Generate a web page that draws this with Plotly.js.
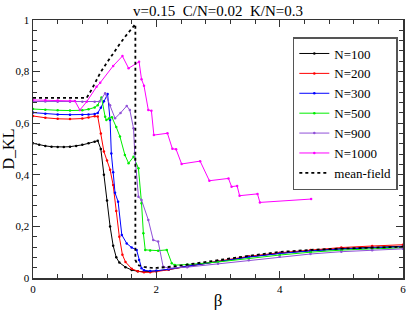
<!DOCTYPE html>
<html>
<head>
<meta charset="utf-8">
<script src="https://cdn.plot.ly/plotly-3.0.1.min.js"></script>
<style>html,body{margin:0;padding:0;background:#fff}#chart{width:407px;height:310px}</style>
</head>
<body>
<div id="chart"></div>
<script>
// ---- data ----
var seriesNames = ['N=100', 'N=200', 'N=300', 'N=500', 'N=900', 'N=1000', 'mean-field'];

var beta100 = [0, 0.1, 0.2, 0.3, 0.4, 0.5, 0.6, 0.7, 0.8, 0.9, 1.0, 1.05, 1.1, 1.15, 1.2, 1.25, 1.3, 1.35, 1.4, 1.5, 1.6, 1.7, 1.8, 2.0, 2.2, 2.5, 3.0, 3.5, 4.0, 4.5, 5.0, 5.5, 6.0];
var dkl100  = [0.522, 0.516, 0.512, 0.509, 0.508, 0.508, 0.509, 0.512, 0.516, 0.522, 0.528, 0.532, 0.5, 0.4, 0.3, 0.2, 0.125, 0.08, 0.06, 0.042, 0.031, 0.026, 0.024, 0.027, 0.033, 0.045, 0.064, 0.082, 0.096, 0.106, 0.114, 0.119, 0.123];

var beta200 = [0, 0.2, 0.4, 0.6, 0.8, 0.9, 1.0, 1.05, 1.1, 1.15, 1.2, 1.25, 1.3, 1.35, 1.4, 1.45, 1.5, 1.6, 1.7, 1.8, 1.9, 2.0, 2.2, 2.5, 3.0, 3.5, 4.0, 4.5, 5.0, 5.5, 6.0];
var dkl200  = [0.628, 0.621, 0.617, 0.616, 0.618, 0.622, 0.627, 0.626, 0.56, 0.49, 0.455, 0.42, 0.36, 0.26, 0.16, 0.09, 0.062, 0.036, 0.026, 0.022, 0.022, 0.025, 0.032, 0.046, 0.066, 0.084, 0.098, 0.109, 0.118, 0.124, 0.129];

var beta300 = [0, 0.2, 0.4, 0.6, 0.8, 0.9, 1.0, 1.05, 1.1, 1.15, 1.21, 1.25, 1.27, 1.3, 1.33, 1.38, 1.44, 1.52, 1.6, 1.68, 1.72, 1.76, 1.8, 1.9, 2.0, 2.2, 2.5, 3.0, 3.5, 4.0, 4.5, 5.0, 5.5, 6.0];
var dkl300  = [0.641, 0.637, 0.634, 0.633, 0.633, 0.634, 0.636, 0.64, 0.66, 0.685, 0.713, 0.612, 0.483, 0.41, 0.33, 0.296, 0.167, 0.134, 0.118, 0.109, 0.07, 0.038, 0.03, 0.027, 0.028, 0.034, 0.046, 0.064, 0.081, 0.095, 0.105, 0.112, 0.117, 0.121];

var beta500 = [0, 0.2, 0.4, 0.6, 0.8, 0.9, 1.0, 1.05, 1.11, 1.17, 1.19, 1.23, 1.28, 1.35, 1.41, 1.49, 1.55, 1.63, 1.71, 1.76, 1.79, 1.82, 1.9, 2.03, 2.17, 2.25, 2.3, 2.5, 3.0, 3.5, 4.0, 4.5, 5.0, 5.5, 6.0];
var dkl500  = [0.655, 0.652, 0.65, 0.649, 0.65, 0.654, 0.661, 0.67, 0.70, 0.625, 0.612, 0.618, 0.623, 0.585, 0.548, 0.477, 0.445, 0.47, 0.425, 0.29, 0.173, 0.109, 0.107, 0.106, 0.109, 0.057, 0.05, 0.052, 0.062, 0.076, 0.089, 0.1, 0.108, 0.113, 0.117];

var beta900 = [0, 0.2, 0.4, 0.6, 0.8, 1.0, 1.08, 1.17, 1.25, 1.33, 1.42, 1.52, 1.57, 1.63, 1.65, 1.71, 1.76, 1.87, 1.95, 2.03, 2.11, 2.2, 2.5, 3.0, 3.5, 4.0, 4.5, 5.0, 5.5, 6.0];
var dkl900  = [0.684, 0.684, 0.683, 0.683, 0.683, 0.683, 0.684, 0.716, 0.67, 0.619, 0.64, 0.667, 0.651, 0.58, 0.483, 0.315, 0.302, 0.225, 0.147, 0.141, 0.044, 0.038, 0.042, 0.055, 0.069, 0.082, 0.093, 0.102, 0.108, 0.113];

var beta1000 = [0, 0.2, 0.4, 0.6, 0.68, 0.76, 0.87, 1.03, 1.09, 1.3, 1.45, 1.55, 1.72, 1.76, 1.8, 1.87, 1.92, 1.96, 2.18, 2.26, 2.32, 2.41, 2.71, 2.86, 3.17, 3.22, 3.31, 3.35, 3.64, 3.68, 4.51];
var dkl1000  = [0.69, 0.689, 0.688, 0.687, 0.686, 0.651, 0.683, 0.741, 0.757, 0.822, 0.86, 0.813, 0.838, 0.77, 0.745, 0.651, 0.648, 0.554, 0.561, 0.501, 0.499, 0.442, 0.453, 0.377, 0.386, 0.354, 0.357, 0.319, 0.326, 0.293, 0.306];

var betaMF = [0, 0.87, 0.95, 1.0, 1.09, 1.2, 1.3, 1.4, 1.5, 1.6, 1.66, 1.66, 1.66, 1.7, 1.8, 1.9, 2.0, 2.3, 2.7, 3.1, 3.5, 4.0, 4.5, 5.0, 5.5, 6.0];
var dklMF  = [0.698, 0.698, 0.73, 0.755, 0.795, 0.835, 0.872, 0.905, 0.937, 0.968, 0.984, 0.5, 0.07, 0.05, 0.043, 0.04, 0.039, 0.045, 0.059, 0.074, 0.086, 0.101, 0.109, 0.114, 0.118, 0.121];

var colors = ['#000000', '#ff0000', '#0000ff', '#00ee00', '#9050d8', '#ff00ff', '#000000'];

var xs = [beta100, beta200, beta300, beta500, beta900, beta1000, betaMF];
var ys = [dkl100, dkl200, dkl300, dkl500, dkl900, dkl1000, dklMF];

var FONT = 'Liberation Serif, Times New Roman, serif';

var traces = [];
for (var i = 0; i < 6; i++) {
  traces.push({
    x: xs[i], y: ys[i], name: seriesNames[i], type: 'scatter', mode: 'lines+markers',
    line: {color: colors[i], width: 1},
    marker: {color: colors[i], size: 2.5, symbol: 'circle'}
  });
}
traces.push({
  x: xs[6], y: ys[6], name: seriesNames[6], type: 'scatter', mode: 'lines',
  line: {color: '#000', width: 1.8, dash: 'dot'}
});

var axisCommon = {
  showline: true, linecolor: '#333', linewidth: 1.5, mirror: 'allticks',
  ticks: 'inside', ticklen: 7, tickwidth: 1, tickcolor: '#333',
  showgrid: false, zeroline: false, automargin: false,
  tickfont: {family: FONT, size: 11, color: '#000'}
};

var layout = {
  width: 407, height: 310,
  margin: {l: 33, r: 4, t: 20, b: 32},
  paper_bgcolor: '#fff', plot_bgcolor: '#fff',
  separators: ', ',
  font: {family: FONT, color: '#000'},
  title: {text: 'v=0.15\u00a0\u00a0C/N=0.02\u00a0\u00a0K/N=0.3', font: {family: FONT, size: 15, color: '#000'},
          xref: 'paper', x: 0.5, xanchor: 'center', yref: 'container', y: 0.966, yanchor: 'middle'},
  xaxis: Object.assign({}, axisCommon, {
    range: [0, 6], tick0: 0, dtick: 2,
    minor: {dtick: 0.4, ticks: 'inside', ticklen: 4, tickcolor: '#333', showgrid: false},
    title: {text: 'β', font: {family: FONT, size: 17, color: '#000'}, standoff: 2}
  }),
  yaxis: Object.assign({}, axisCommon, {
    range: [0, 1], tick0: 0, dtick: 0.2,
    minor: {dtick: 0.04, ticks: 'inside', ticklen: 4, tickcolor: '#333', showgrid: false},
    title: {text: 'D_KL', font: {family: FONT, size: 16, color: '#000'}, standoff: 2}
  }),
  legend: {
    x: 0.986, xanchor: 'right', y: 0.934, yanchor: 'top',
    bgcolor: '#fff', bordercolor: '#555', borderwidth: 1.5,
    font: {family: FONT, size: 13, color: '#000'}, itemwidth: 30, tracegroupgap: 0
  },
  showlegend: true
};

Plotly.newPlot('chart', traces, layout, {displayModeBar: false, staticPlot: true});
</script>
</body>
</html>
